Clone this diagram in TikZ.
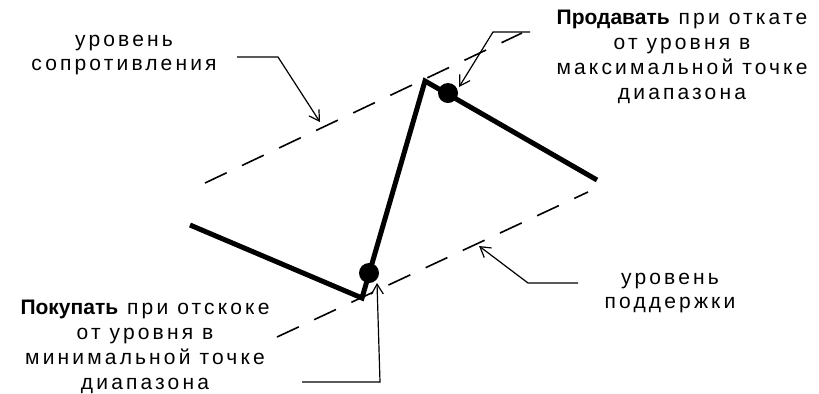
\documentclass[tikz,border=0pt]{standalone}
\usepackage{fontspec}
\setmainfont{Liberation Sans}
\newfontfamily\spacedfont{Liberation Sans}[LetterSpace=15]
\newfontfamily\plainfont{Liberation Sans}
\newcommand{\strongword}[1]{{\plainfont\bfseries #1}}
\usetikzlibrary{arrows.meta}
\tikzset{
  lvlline/.style={dash pattern=on 12pt off 8.5pt, line width=0.8pt},
  price/.style={line width=2.5pt, line join=miter},
  dot/.style={circle, fill, inner sep=0pt, minimum size=10pt},
  arrowline/.style={line width=0.6pt, -{Straight Barb[length=5pt,width=6pt]}},
  lbltext/.style={align=center, inner sep=0pt, font=\spacedfont\fontsize{10.5}{12.4}\selectfont},
}
\begin{document}
\begin{tikzpicture}[x=0.5pt,y=-0.5pt]
    \useasboundingbox (0,0) rectangle (819,393);
    \draw [lvlline] (205,183) -- (522,33);
    \draw [lvlline] (277,337) -- (588,192);
    \draw [price] (190,225) -- (362,298) -- (425,81) -- (597,180);
    \node [dot] (buyPt) at (369,273) {};
    \node [dot] (sellPt) at (448,93) {};
    \node [lbltext] (resLbl) at (124,55) {уровень\\сопротивления};
    \node [lbltext] (sellLbl) at (682,57) {\strongword{Продавать} при откате\\от уровня в\\максимальной точке\\диапазона};
    \node [lbltext] (buyLbl) at (145,347) {\strongword{Покупать} при отскоке\\от уровня в\\минимальной точке\\диапазона};
    \node [lbltext] (supLbl) at (670,293) {уровень\\поддержки};
    \coordinate (resStart) at (237,57);
    \coordinate (resElbow) at (278,57);
    \coordinate (resTip) at (320,122);
    \coordinate (sellStart) at (530,32);
    \coordinate (sellElbow) at (493,32);
    \coordinate (sellTip) at (459,87);
    \coordinate (buyStart) at (302,382);
    \coordinate (buyElbow) at (380,382);
    \coordinate (buyTip) at (377,283);
    \coordinate (supStart) at (578,283);
    \coordinate (supElbow) at (528,283);
    \coordinate (supTip) at (479,246);
    \draw [arrowline] (resStart) -- (resElbow) -- (resTip);
    \draw [arrowline] (sellStart) -- (sellElbow) -- (sellTip);
    \draw [arrowline] (buyStart) -- (buyElbow) -- (buyTip);
    \draw [arrowline] (supStart) -- (supElbow) -- (supTip);
\end{tikzpicture}
\end{document}
